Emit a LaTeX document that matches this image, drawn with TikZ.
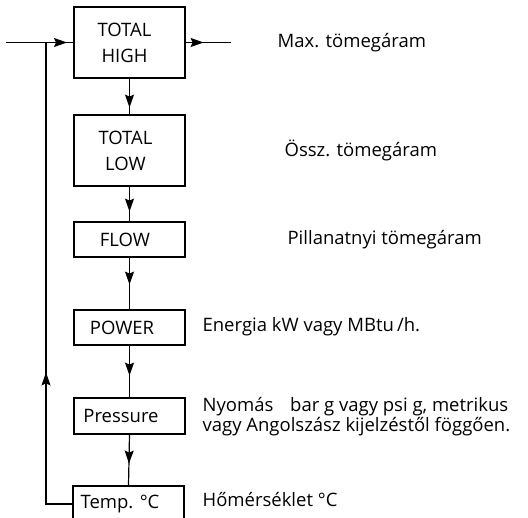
\documentclass[tikz,border=0pt]{standalone}
\usepackage{fontspec}
\setmainfont{Open Sans}
\usetikzlibrary{arrows.meta,decorations.markings}
\begin{document}
\begin{tikzpicture}[x=1pt,y=-1pt,
  line width=1.2pt,
  every node/.style={font=\fontsize{18.5}{20}\selectfont},
  blk/.style={draw, line width=1.2pt, minimum width=111pt, inner sep=0pt, align=center},
  twoline/.style={font=\fontsize{18.5}{26}\selectfont},
  txt/.style={anchor=west, inner sep=0pt, align=left},
  midarrow/.style={postaction={decorate}, decoration={markings,
      mark=at position #1 with {\arrow{Stealth[length=13pt,width=9pt,inset=2pt]}}}}
]
\useasboundingbox (0,0) rectangle (528,518);
\clip (0,0) rectangle (528,518);

% processing chain
\node[blk, twoline, minimum height=71pt] (th) at (129.5,42.5) {TOTAL\kern10pt\\HIGH\kern10pt};
\node[blk, twoline, minimum height=71pt] (tl) at (129.5,150.5) {TOTAL\kern8pt\\LOW\kern8pt};
\node[blk, minimum height=35pt] (flow) at (129.5,239.5) {FLOW\kern9pt};
\node[blk, minimum height=35pt] (power) at (129.5,327.5) {POWER\kern15pt};
\node[blk, minimum height=36pt] (press) at (129.5,416) {Pressure\kern17pt};
\node[blk, minimum height=36pt] (temp) at (128.5,504) {Temp. °C\kern17pt};

\coordinate (in) at (6,42.5);
\coordinate (out) at (231,42.5);
\coordinate (loop) at (46,42.5);

% connectors
\draw[midarrow=61pt] (in) -- (th.west);
\draw[midarrow=18pt] (th.east) -- (out);
\draw[midarrow=29pt] (th.south) -- (tl.north);
\draw[midarrow=25pt] (tl.south) -- (flow.north);
\draw[midarrow=27pt] (flow.south) -- (power.north);
\draw[midarrow=30pt] (power.south) -- (press.north);
\draw[midarrow=29pt] (press.south) -- (temp.north);
\draw[midarrow=158pt] (temp.west) -| (loop);

% descriptions
\node[txt] (d1) at (277,43) {Max. tömegáram};
\node[txt] (d2) at (284,150) {Össz. tömegáram};
\node[txt] (d3) at (287,240) {Pillanatnyi tömegáram};
\node[txt] (d4) at (202,327) {Energia kW vagy MBtu\,/h.};
\node[txt] (d5) at (202,417) {Nyomás\hspace{12pt} bar g vagy psi g, metrikus\\vagy Angolszász kijelzéstől föggően.};
\node[txt] (d6) at (202,500) {Hőmérséklet °C};
\end{tikzpicture}
\end{document}
